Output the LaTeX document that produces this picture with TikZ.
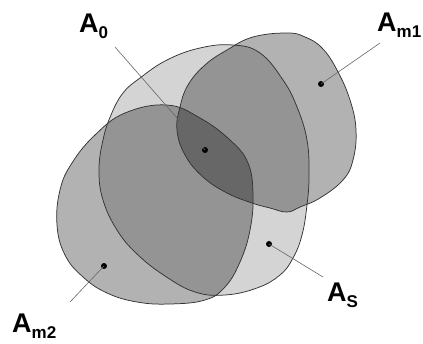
\documentclass[tikz,border=0pt]{standalone}
\usepackage{fontspec}
\setmainfont{Liberation Sans}
\newcommand{\regionlabel}[2]{{\fontsize{27}{27}\selectfont A}\raisebox{-6pt}{\fontsize{17}{17}\selectfont #2}}
\begin{document}
\begin{tikzpicture}[x=1pt,y=-1pt,
    region/.style={fill=black,draw=black!80,line width=0.75pt},
    pinline/.style={draw=black!60,line width=0.6pt},
    pindot/.style={circle,fill=black,inner sep=0pt,minimum size=6pt},
    tag/.style={anchor=base west,inner sep=0pt,font=\bfseries}]
  \useasboundingbox (0,0) rectangle (423,344);
  %% the three regions: fills first (they darken where they overlap), outlines on top
  \fill[fill opacity=0.17] plot[smooth cycle,tension=0.7] coordinates {
    (140,78) (167,60) (200,48) (233,45) (260,53) (283,80) (297,107) (307,140)
    (309,175) (307,205) (302,235) (293,258) (280,275) (257,288) (225,295)
    (195,292) (165,276) (137,254) (117,230) (103,200) (99,170) (103,140)
    (111,115) (123,93)};
  \fill[fill opacity=0.3] plot[smooth cycle,tension=0.7] coordinates {
    (253,37) (287,33) (305,37) (322,48) (337,70) (350,100) (356,130) (353,160)
    (343,180) (320,198) (300,207) (287,212) (270,208) (252,203) (227,193)
    (203,177) (185,155) (177,130) (180,107) (188,85) (205,65) (227,50)};
  \fill[fill opacity=0.3] plot[smooth cycle,tension=0.7] coordinates {
    (167,105) (200,118) (230,140) (248,163) (253,195) (250,230) (240,262)
    (225,287) (205,300) (170,304) (137,302) (107,293) (83,277) (65,255)
    (57,225) (60,190) (72,163) (95,135) (125,113)};
  \draw[region,fill=none] plot[smooth cycle,tension=0.7] coordinates {
    (140,78) (167,60) (200,48) (233,45) (260,53) (283,80) (297,107) (307,140)
    (309,175) (307,205) (302,235) (293,258) (280,275) (257,288) (225,295)
    (195,292) (165,276) (137,254) (117,230) (103,200) (99,170) (103,140)
    (111,115) (123,93)};
  \draw[region,fill=none] plot[smooth cycle,tension=0.7] coordinates {
    (253,37) (287,33) (305,37) (322,48) (337,70) (350,100) (356,130) (353,160)
    (343,180) (320,198) (300,207) (287,212) (270,208) (252,203) (227,193)
    (203,177) (185,155) (177,130) (180,107) (188,85) (205,65) (227,50)};
  \draw[region,fill=none] plot[smooth cycle,tension=0.7] coordinates {
    (167,105) (200,118) (230,140) (248,163) (253,195) (250,230) (240,262)
    (225,287) (205,300) (170,304) (137,302) (107,293) (83,277) (65,255)
    (57,225) (60,190) (72,163) (95,135) (125,113)};

  %% labels, each with a leader line to a dot inside its region
  \node[tag] (lab0) at (79,33) {\regionlabel{A}{0}};
  \node[tag] (labm1) at (377,32) {\regionlabel{A}{m1}};
  \node[tag] (labm2) at (12,333) {\regionlabel{A}{m2}};
  \node[tag] (labs) at (327,302) {\regionlabel{A}{S}};
  \coordinate (end0) at (115,47);
  \coordinate (endm1) at (380,43);
  \coordinate (endm2) at (70,302);
  \coordinate (ends) at (323,277);
  \node[pindot] (dot0) at (205,150) {};
  \node[pindot] (dotm1) at (321,84) {};
  \node[pindot] (dotm2) at (104,266) {};
  \node[pindot] (dots) at (269,244) {};
  \draw[pinline] (end0) -- (dot0.center);
  \draw[pinline] (endm1) -- (dotm1.center);
  \draw[pinline] (endm2) -- (dotm2.center);
  \draw[pinline] (ends) -- (dots.center);
\end{tikzpicture}
\end{document}
